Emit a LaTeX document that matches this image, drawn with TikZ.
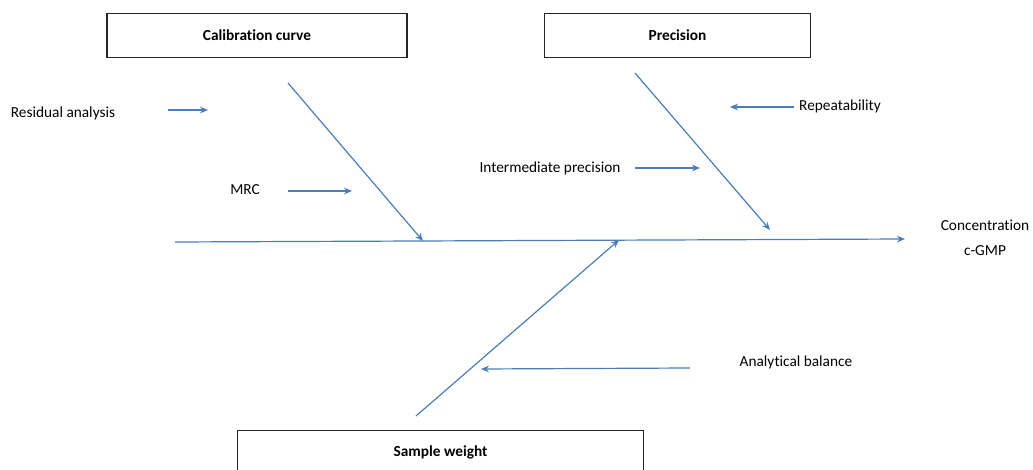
\documentclass[tikz,border=0pt]{standalone}
\usepackage{fontspec}
\setmainfont{Carlito}[Ligatures=NoCommon]
\usetikzlibrary{arrows.meta}
\definecolor{fbblue}{HTML}{4A7EBB}
\definecolor{fbframe}{HTML}{262626}

\begin{document}
\begin{tikzpicture}[
  x=0.75pt, y=-0.75pt,
  every node/.style={font=\fontsize{11.5}{14}\selectfont, inner sep=0pt},
  causebox/.style={rectangle, draw=fbframe, line width=0.9pt, minimum height=32.5pt, font=\fontsize{11.5}{14}\selectfont\bfseries},
  bone/.style={fbblue, line width=0.9pt, -{Stealth[length=6pt, width=5pt]}},
  twig/.style={fbblue, line width=0.9pt, -{Stealth[length=6pt, width=5pt]}},
]
\useasboundingbox (0,0) rectangle (1033,470);

% Cause boxes
\node[causebox, minimum width=225pt] (calib) at (257,35.5) {Calibration curve};
\node[causebox, minimum width=199pt] (prec) at (677.5,35.5) {Precision};
\node[causebox, minimum width=304pt] (sample) at (440.5,452) {Sample weight};

% Effect
\node[align=center, font=\fontsize{11.5}{18.5}\selectfont] (effect) at (985,238) {Concentration\\c-GMP};

% Spine and bones
\coordinate (spine0) at (175,242);
\coordinate (spine1) at (905,239);
\coordinate (calib0) at (288,83);
\coordinate (calib1) at (423,241);
\coordinate (prec0) at (635,73);
\coordinate (prec1) at (770,230);
\coordinate (sample0) at (416,416);
\coordinate (sample1) at (619,240);

\draw[bone] (spine0) -- (spine1);
\draw[bone] (calib0) -- (calib1);
\draw[bone] (prec0) -- (prec1);
\draw[bone] (sample0) -- (sample1);

% Sub-causes
\node (resid) at (63,113) {Residual analysis};
\node (mrc) at (245,190) {MRC};
\node (repeat) at (840,106) {Repeatability};
\node (inter) at (550,168) {Intermediate precision};
\node (balance) at (796,362) {Analytical balance};

\coordinate (resid0) at (168,110);
\coordinate (resid1) at (208,110);
\coordinate (mrc0) at (288,191);
\coordinate (mrc1) at (352,191);
\coordinate (repeat0) at (794,107);
\coordinate (repeat1) at (730,107);
\coordinate (inter0) at (635,168);
\coordinate (inter1) at (700,168);
\coordinate (balance0) at (690,368);
\coordinate (balance1) at (481,369);

\draw[twig] (resid0) -- (resid1);
\draw[twig] (mrc0) -- (mrc1);
\draw[twig] (repeat0) -- (repeat1);
\draw[twig] (inter0) -- (inter1);
\draw[twig] (balance0) -- (balance1);

\end{tikzpicture}
\end{document}
